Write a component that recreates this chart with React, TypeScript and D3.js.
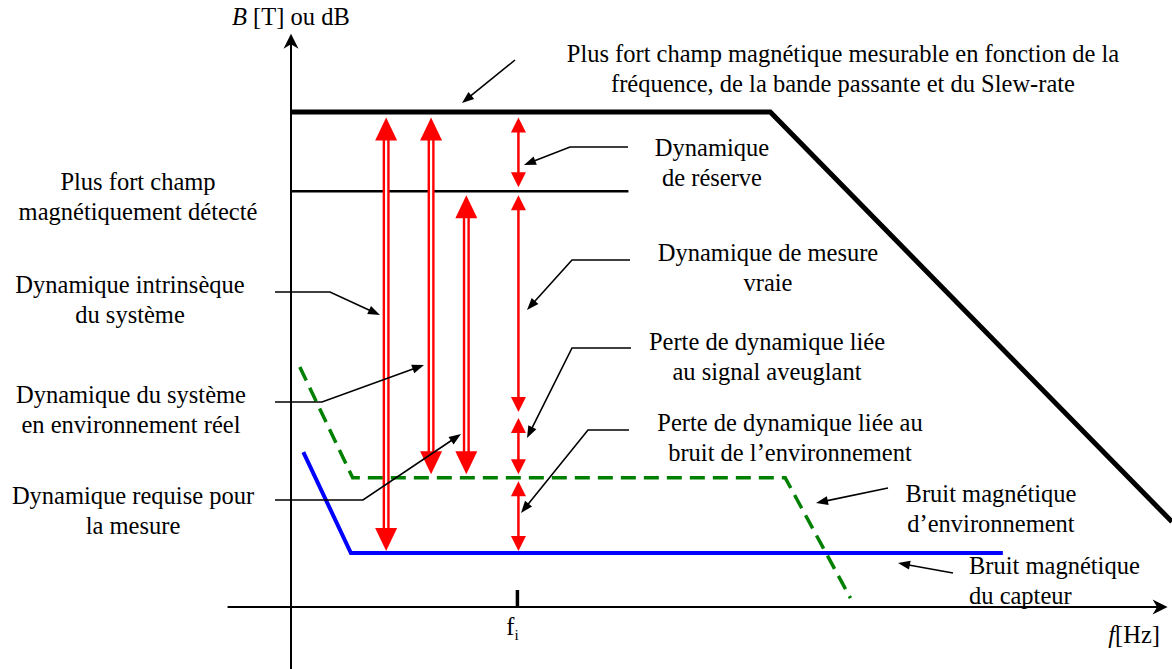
import React from 'react';
import * as d3 from 'd3';

const W = 1172;
const H = 669;

// frequency units: 0 = vertical axis, 100 = right edge of the picture
// level units: 0 = horizontal axis, 100 = strongest measurable field
const fi = 25.7;
const detectedEnd = 38.3;
const levels = { max: 100, detected: 84, blind: 38.8, env: 26.1, sensor: 10.9 };

const maxCurve: [number, number][] = [[0, 100], [54.4, 100], [100, 17.2]];
const envNoise: [number, number][] = [[1.0, 48.5], [7.0, 26.1], [56.1, 26.1], [63.5, 1.8]];
const sensorNoise: [number, number][] = [[1.4, 31.3], [6.8, 10.9], [80.8, 10.9]];

// double red arrows: frequency, top level, bottom level
const doubleArrows = [
  { f: 10.8, top: levels.max, bottom: levels.sensor },
  { f: 15.9, top: levels.max, bottom: levels.env },
  { f: 19.9, top: levels.detected, bottom: levels.env },
];
// single red arrows at fi
const fiSegments = [
  [levels.max, levels.detected],
  [levels.detected, levels.blind],
  [levels.blind, levels.env],
  [levels.env, levels.sensor],
];

// annotations (text lines, anchor, pixel positions for layout)
const labels = [
  { lines: ['Plus fort champ magnétique mesurable en fonction de la', 'fréquence, de la bande passante et du Slew-rate'], x: 843, y: 62, anchor: 'middle' },
  { lines: ['Plus fort champ', 'magnétiquement détecté'], x: 138, y: 190, anchor: 'middle' },
  { lines: ['Dynamique intrinsèque', 'du système'], x: 130, y: 293, anchor: 'middle' },
  { lines: ['Dynamique du système', 'en environnement réel'], x: 131, y: 403, anchor: 'middle' },
  { lines: ['Dynamique requise pour', 'la mesure'], x: 133, y: 504, anchor: 'middle' },
  { lines: ['Dynamique', 'de réserve'], x: 712, y: 156, anchor: 'middle' },
  { lines: ['Dynamique de mesure', 'vraie'], x: 768, y: 261, anchor: 'middle' },
  { lines: ['Perte de dynamique liée', 'au signal aveuglant'], x: 767, y: 350, anchor: 'middle' },
  { lines: ['Perte de dynamique liée au', 'bruit de l\u2019environnement'], x: 790, y: 431, anchor: 'middle' },
  { lines: ['Bruit magnétique', 'd\u2019environnement'], x: 991, y: 502, anchor: 'middle' },
  { lines: ['Bruit magnétique', 'du capteur'], x: 969, y: 574, anchor: 'start' },
];

const leaders: [number, number][][] = [
  [[515, 60], [462, 103]],
  [[628, 147], [570, 147], [524, 165]],
  [[630, 260], [572, 260], [527, 310]],
  [[631, 348], [572, 348], [527, 438]],
  [[629, 430], [588, 430], [521, 513]],
  [[275, 292], [330, 292], [380, 315]],
  [[275, 402], [322, 402], [424, 365]],
  [[275, 500], [363, 500], [461, 434]],
  [[888, 488], [816, 503]],
  [[953, 573], [898, 563]],
];

const FONT = "'Liberation Serif', 'Times New Roman', serif";
const FS = 24.5;
const LH = 29.5;

const x = d3.scaleLinear().domain([0, 100]).range([291, 1172]);
const y = d3.scaleLinear().domain([0, 100]).range([607, 112]);

// gap between an arrow tip and the line it touches
const gapFor = (lv: number) =>
  lv === levels.max ? 5.5 : lv === levels.detected ? 4 : lv === levels.sensor ? 2 : lv === levels.env ? 3.5 : 3;

const tri = (tx: number, ty: number, dx: number, dy: number, len: number, w: number) => {
  const n = Math.hypot(dx, dy);
  const ux = dx / n, uy = dy / n;
  const bx = tx - ux * len, by = ty - uy * len;
  return [
    [tx, ty],
    [bx - uy * w / 2, by + ux * w / 2],
    [bx + uy * w / 2, by - ux * w / 2],
  ].map((p) => p.join(',')).join(' ');
};

const stealth = (tx: number, ty: number, dx: number, dy: number, len: number, w: number) => {
  const n = Math.hypot(dx, dy);
  const ux = dx / n, uy = dy / n;
  const bx = tx - ux * len, by = ty - uy * len;
  const nx = tx - ux * len * 0.7, ny = ty - uy * len * 0.7;
  return [
    [tx, ty],
    [bx - uy * w / 2, by + ux * w / 2],
    [nx, ny],
    [bx + uy * w / 2, by - ux * w / 2],
  ].map((p) => p.join(',')).join(' ');
};

const line = d3.line<[number, number]>().x((d) => x(d[0])).y((d) => y(d[1]));
const pxLine = d3.line<[number, number]>();

export default function App() {
  const axisTop = y(115.8);
  const axisBottom = y(-12.5);
  const xStart = x(-7.2);
  const xEnd = x(99.5);

  return (
    <svg width={W} height={H} style={{ display: 'block', position: 'absolute', left: 0, top: 0, background: '#fff' }}>
      <rect width={W} height={H} fill="#fff" />
      {/* axes */}
      <line x1={x(0)} x2={x(0)} y1={axisBottom} y2={axisTop + 8} stroke="#000" strokeWidth={2} />
      <polygon points={stealth(x(0), axisTop, 0, -1, 15, 15)} fill="#000" />
      <line x1={xStart} x2={xEnd - 8} y1={y(0)} y2={y(0)} stroke="#000" strokeWidth={2} />
      <polygon points={stealth(xEnd, y(0), 1, 0, 15, 15)} fill="#000" />
      <line x1={x(fi)} x2={x(fi)} y1={y(0) - 17} y2={y(0)} stroke="#000" strokeWidth={3.5} />

      <text x={232} y={25} fontFamily={FONT} fontSize={FS}>
        <tspan fontStyle="italic">B</tspan> [T] ou dB
      </text>
      <text x={1160} y={643} fontFamily={FONT} fontSize={FS} textAnchor="end">
        <tspan fontStyle="italic">f</tspan>[Hz]
      </text>
      <text x={x(fi) - 5} y={635} fontFamily={FONT} fontSize={FS} textAnchor="middle">
        f<tspan fontSize={15} dy={5}>i</tspan>
      </text>

      {/* curves */}
      <path d={line(maxCurve) || ''} fill="none" stroke="#000" strokeWidth={5} strokeLinejoin="miter" />
      <line x1={x(0)} x2={x(detectedEnd)} y1={y(levels.detected)} y2={y(levels.detected)} stroke="#000" strokeWidth={2.5} />
      <path d={line(envNoise) || ''} fill="none" stroke="#008000" strokeWidth={3.5} strokeDasharray="15 8" />
      <path d={line(sensorNoise) || ''} fill="none" stroke="#0000ff" strokeWidth={4} />

      {/* double red arrows */}
      {doubleArrows.map((a, i) => {
        const cx = x(a.f);
        const t = y(a.top) + gapFor(a.top);
        const b = y(a.bottom) - gapFor(a.bottom);
        return (
          <g key={'d' + i}>
            <line x1={cx} x2={cx} y1={t + 20} y2={b - 20} stroke="#ff0000" strokeWidth={7} />
            <line x1={cx} x2={cx} y1={t + 20} y2={b - 20} stroke="#fff" strokeWidth={2.2} />
            <polygon points={tri(cx, t, 0, -1, 23, 22)} fill="#ff0000" />
            <polygon points={tri(cx, b, 0, 1, 23, 22)} fill="#ff0000" />
          </g>
        );
      })}

      {/* single red arrows at fi */}
      {fiSegments.map((s, i) => {
        const cx = x(fi) + 1;
        const t = y(s[0]) + gapFor(s[0]);
        const b = y(s[1]) - gapFor(s[1]);
        return (
          <g key={'s' + i}>
            <line x1={cx} x2={cx} y1={t + 10} y2={b - 10} stroke="#ff0000" strokeWidth={2.5} />
            <polygon points={tri(cx, t, 0, -1, 15, 15)} fill="#ff0000" />
            <polygon points={tri(cx, b, 0, 1, 15, 15)} fill="#ff0000" />
          </g>
        );
      })}

      {/* leader lines */}
      {leaders.map((pts, i) => {
        const n = pts.length;
        const [tx, ty] = pts[n - 1];
        const [px, py] = pts[n - 2];
        const d = Math.hypot(tx - px, ty - py);
        const shaft = pts.slice(0, n - 1).concat([[tx - ((tx - px) / d) * 8, ty - ((ty - py) / d) * 8]]) as [number, number][];
        return (
          <g key={'l' + i}>
            <path d={pxLine(shaft) || ''} fill="none" stroke="#000" strokeWidth={1.6} />
            <polygon points={tri(tx, ty, tx - px, ty - py, 12, 9)} fill="#000" />
          </g>
        );
      })}

      {/* labels */}
      {labels.map((l, i) => (
        <text key={'t' + i} fontFamily={FONT} fontSize={FS} textAnchor={l.anchor as any} fill="#000">
          {l.lines.map((s, j) => (
            <tspan key={j} x={l.x} y={l.y + j * LH}>{s}</tspan>
          ))}
        </text>
      ))}
    </svg>
  );
}
